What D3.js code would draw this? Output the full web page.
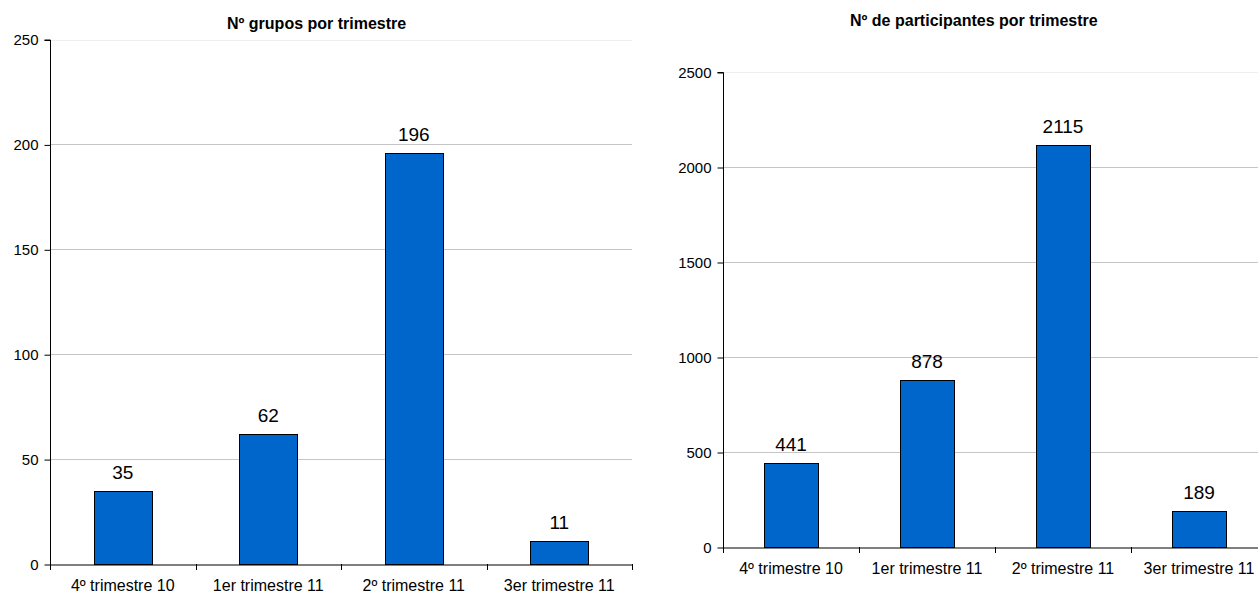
<!DOCTYPE html>
<html>
<head>
<meta charset="utf-8">
<script src="https://cdn.jsdelivr.net/npm/d3@7"></script>
<style>
  html, body { margin: 0; padding: 0; background: #fff; }
  svg { display: block; font-family: "Liberation Sans", Arial, sans-serif; }
</style>
</head>
<body>
<svg id="chart" width="1258" height="595"></svg>
<script>
const categories = ["4º trimestre 10", "1er trimestre 11", "2º trimestre 11", "3er trimestre 11"];
const gruposValues = [35, 62, 196, 11];
const participantesValues = [441, 878, 2115, 189];
const gruposTicks = [0, 50, 100, 150, 200, 250];
const participantesTicks = [0, 500, 1000, 1500, 2000, 2500];
const gruposTitle = "Nº grupos por trimestre";
const participantesTitle = "Nº de participantes por trimestre";

const svg = d3.select("#chart");

function drawChart(cfg) {
  const g = svg.append("g");
  const x = d3.scaleBand().domain(categories).range([cfg.x0, cfg.x1])
    .paddingInner(0.6).paddingOuter(0.3);
  const y = d3.scaleLinear().domain([0, cfg.max]).range([cfg.y0, cfg.y1]);

  // gridlines
  g.selectAll("line.grid").data(cfg.ticks.filter(t => t > 0)).join("line")
    .attr("class", "grid")
    .attr("x1", cfg.x0).attr("x2", cfg.x1)
    .attr("y1", d => Math.round(y(d)) + 0.5).attr("y2", d => Math.round(y(d)) + 0.5)
    .attr("stroke", d => d === cfg.max ? "#efefef" : "#c6c6c6")
    .attr("stroke-width", 1);

  // title
  g.append("text").attr("x", cfg.titleX).attr("y", cfg.titleY)
    .attr("font-size", "16px").attr("font-weight", "bold").attr("fill", "#000")
    .text(cfg.title);

  // bars
  g.selectAll("rect.bar").data(cfg.values).join("rect")
    .attr("class", "bar")
    .attr("x", (d, i) => Math.round(x(categories[i])) + 0.5)
    .attr("y", d => Math.round(y(d)) + 0.5)
    .attr("width", Math.round(x.bandwidth()))
    .attr("height", d => Math.round(y(0)) - Math.round(y(d)))
    .attr("fill", "#0066CC").attr("stroke", "#000").attr("stroke-width", 1);

  // value labels
  g.selectAll("text.val").data(cfg.values).join("text")
    .attr("class", "val")
    .attr("x", (d, i) => x(categories[i]) + x.bandwidth() / 2)
    .attr("y", d => y(d) - 12)
    .attr("text-anchor", "middle").attr("font-size", "19px").attr("fill", "#000")
    .text(d => d);

  // y axis
  const yAxis = d3.axisLeft(y).tickValues(cfg.ticks).tickSize(6).tickPadding(6).tickFormat(d3.format("d"));
  const ya = g.append("g").attr("transform", `translate(${cfg.x0 + 0.5},0.5)`).call(yAxis);
  ya.select(".domain").attr("stroke", "#000").attr("d", `M-6,${y(cfg.max)}H0V${y(0)}`);
  ya.selectAll(".tick line").attr("stroke", "#000");
  ya.selectAll(".tick text").attr("font-size", "15px").attr("fill", "#000")
    .attr("font-family", "Liberation Sans, Arial, sans-serif");

  // x axis
  const xAxis = d3.axisBottom(x).tickSize(0).tickPadding(15);
  const xa = g.append("g").attr("transform", `translate(0,${Math.round(y(0)) + 0.5})`).call(xAxis);
  xa.select(".domain").attr("stroke", "#000");
  xa.selectAll(".tick text").attr("font-size", "16px").attr("fill", "#000")
    .attr("font-family", "Liberation Sans, Arial, sans-serif");

  // category boundary ticks
  const bounds = d3.range(categories.length + 1).map(i => cfg.x0 + i * x.step());
  g.selectAll("line.bt").data(bounds).join("line")
    .attr("class", "bt")
    .attr("x1", d => Math.round(d) + 0.5).attr("x2", d => Math.round(d) + 0.5)
    .attr("y1", Math.round(y(0))).attr("y2", Math.round(y(0)) + 6)
    .attr("stroke", "#000");
}

drawChart({
  x0: 50, x1: 632, y0: 564, y1: 39.5, max: 250,
  ticks: gruposTicks, values: gruposValues,
  title: gruposTitle, titleX: 227, titleY: 29
});

drawChart({
  x0: 723, x1: 1267, y0: 547, y1: 72, max: 2500,
  ticks: participantesTicks, values: participantesValues,
  title: participantesTitle, titleX: 850, titleY: 26
});
</script>
</body>
</html>
